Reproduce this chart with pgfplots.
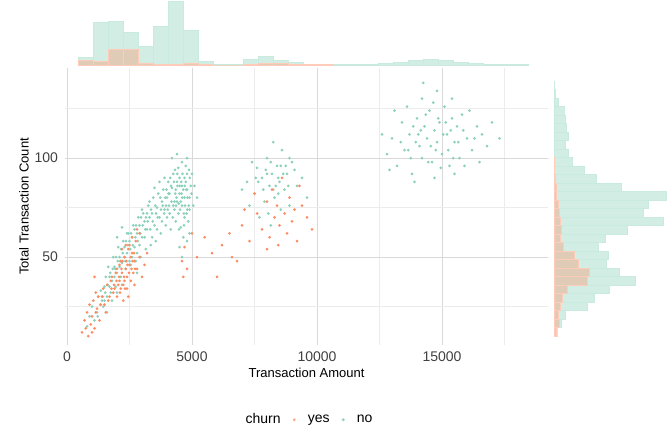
\documentclass[border=0pt]{standalone}
\usepackage{pgfplots}
\pgfplotsset{compat=1.18}
\usepackage{fontspec}
\setmainfont{Liberation Sans}
\definecolor{cyes}{HTML}{FC8D62}
\definecolor{cno}{HTML}{66C2A5}
\definecolor{grd}{HTML}{D9D9D9}
\begin{document}
\begin{tikzpicture}
\path (0,0) rectangle (336pt,223.5pt);
% main scatter
\begin{axis}[at={(32.5pt,51pt)},anchor=south west,scale only axis,width=241.5pt,height=138.5pt,
 xmin=-80,xmax=19240,ymin=5.56,ymax=145.5,axis line style={draw=none},
 tick style={draw=none},xtick={0,5000,10000,15000},ytick={50,100},
 minor xtick={2500,7500,12500,17500},minor ytick={25,75,125},
 grid=both,major grid style={grd,line width=0.5pt},minor grid style={grd!50,line width=0.4pt},
 scaled x ticks=false,/pgf/number format/assume math mode=true,
 /pgf/number format/set thousands separator={},
 ticklabel style={font=\fontsize{7}{8}\selectfont,text=black!75},
 xlabel={Transaction Amount},ylabel={Total Transaction Count},
 label style={font=\fontsize{6.5}{8}\selectfont},
 xlabel style={yshift=4pt},ylabel style={yshift=-4pt},
 legend style={at={(0.497,-0.27)},anchor=center,draw=none,font=\fontsize{7}{8}\selectfont,legend columns=-1,column sep=4pt},
 legend cell align=left]
\addlegendimage{empty legend}\addlegendentry{churn}
\addlegendimage{only marks,mark=*,mark size=0.8pt,cyes,mark options={fill opacity=0.7,draw opacity=0}}\addlegendentry{yes}
\addlegendimage{only marks,mark=*,mark size=0.8pt,cno,mark options={fill opacity=0.7,draw opacity=0}}\addlegendentry{no}
\addplot[only marks,mark=*,mark size=0.75pt,cno!75!white,mark options={draw opacity=0},forget plot] coordinates {
(1200,22)(1400,28)(1500,35)(1600,30)(1700,40)(1800,38)(1900,45)(2000,42)(2100,50)(2200,47)(2300,55)(2400,52)(2500,58)(2600,60)(2700,55)(2800,62)(2900,66)(3000,60)(3100,68)(3200,64)(3300,70)(3400,72)(3500,66)(3600,75)(3700,70)(3800,78)(3900,74)(4000,80)(4100,72)(4200,85)(4300,78)(4400,88)(4500,82)(4600,76)(4700,90)(4800,84)(4900,80)(5000,92)(4450,95)(4350,68)(4250,92)(4150,64)(4050,88)(3950,66)(3850,84)(3750,62)(3650,82)(3550,58)(3450,80)(3350,56)(3250,76)(3150,54)(3050,72)(2950,50)(2850,70)(2750,48)(2650,66)(2550,46)(2450,62)(2350,44)(2250,58)(2150,40)(2050,55)(1950,35)(1850,50)(1750,32)(1650,45)(1550,40)(1450,25)(1350,33)(1250,30)(1100,18)(1000,25)(900,20)(800,15)(4600,98)(4800,100)(4700,70)(4900,74)(5100,86)(5200,80)(4550,65)(4650,60)(4750,96)(4400,102)(4200,100)(4300,74)(4500,90)(4600,86)(4400,78)(4700,80)(4800,92)(4100,82)(4000,70)(3900,90)(3800,68)(4250,76)(4350,84)(4450,72)(4550,78)(4650,84)(4750,88)(4850,68)(4950,86)(5050,76)(3700,88)(3600,64)(3400,60)(3300,78)(3200,72)(3100,60)(3000,74)(2900,56)(2800,52)(2700,64)(2600,50)(2500,48)(2400,62)(2300,50)(2200,36)(2100,45)(2000,32)(1900,40)(1800,28)(1700,35)(1600,22)(1500,28)(2000,60)(2200,65)(2800,42)(3500,85)(4500,55)(4600,50)(4800,58)(4900,62)
(4380,80)(4520,74)(4620,92)(4720,76)(4820,80)(4280,88)(4180,78)(4080,76)(3980,84)(3880,72)(4420,86)(4580,82)(4680,66)(4780,72)(4880,94)(4980,82)(4320,94)(4480,64)
(4330,82)(4470,77)(4570,88)(4670,72)(4770,84)(4870,76)(4230,70)(4130,90)(4030,74)(3930,80)(3830,76)(3730,80)(3630,70)(3530,76)(3430,68)(3330,64)(3230,68)(3130,64)(3030,66)(2930,62)(2830,58)(2730,60)(2630,56)(2530,54)(2430,56)(2330,48)(2230,52)(2130,48)(2030,48)(1930,44)(1830,44)(1730,42)(1630,36)(1530,32)(1430,30)(1330,26)(1230,20)(4610,80)(4510,86)(4410,92)(4710,86)(4810,74)(4910,90)(4360,76)(4160,86)(4060,82)(3960,76)(3760,74)(3560,72)(3360,74)(3160,70)(2960,70)(2760,66)(2560,62)(2360,58)(2160,54)(1960,50)
(7200,88)(7500,82)(7600,95)(7800,90)(7900,78)(8000,100)(8100,86)(8200,92)(8300,80)(8400,96)(8500,88)(8600,104)(8700,84)(8800,92)(8900,76)(9000,98)(9200,86)(9400,90)(7700,70)(8050,72)(7400,98)(8250,108)(8550,74)(8900,100)(7300,76)(8150,66)(9600,80)(7000,84)(8450,90)(8750,96)(7850,84)(8350,86)(8650,92)(9100,94)(8000,92)(7650,88)(7950,94)(8150,98)(8550,96)(8850,86)(7550,90)(8250,84)(8450,82)
(12800,102)(13000,110)(13200,96)(13400,118)(13500,104)(13700,112)(13800,92)(14000,120)(14100,106)(14200,100)(14300,116)(14400,110)(14500,124)(14600,98)(14700,114)(14800,108)(14900,118)(15000,102)(15100,126)(15200,112)(15300,96)(15400,120)(15500,108)(15600,116)(15700,100)(15800,122)(16000,110)(16200,104)(16400,116)(16600,112)(16800,106)(17000,118)(17300,110)(13600,126)(14200,130)(14800,134)(15400,130)(13900,88)(14700,90)(15500,92)(12600,112)(13100,124)(16100,124)(14350,122)(15050,112)(14050,112)(14550,106)(15250,104)(13350,108)(16500,98)(12900,94)(15900,96)(14650,128)(14450,98)(15650,108)(13750,100)(14950,95)(14250,138)(15150,118)(13850,116)(14750,104)(13650,104)(14150,114)(14850,120)(15350,114)(15850,114)(16300,110)(13950,108)(15450,100)};
\addplot[only marks,mark=*,mark size=0.75pt,cyes,mark options={draw opacity=0},forget plot] coordinates {
(600,12)(700,18)(750,14)(800,22)(850,10)(900,26)(950,16)(1000,20)(1050,28)(1100,14)(1150,32)(1200,24)(1300,18)(1400,30)(1500,26)(1600,36)(1700,30)(1800,40)(1900,34)(2000,44)(2100,38)(2150,48)(2200,42)(2250,36)(2300,50)(2350,44)(2400,40)(2450,54)(2500,46)(2550,38)(2600,52)(2650,42)(2700,48)(2750,58)(2800,44)(2900,50)(3000,40)(2000,30)(1950,42)(2050,36)(2100,46)(1850,32)(2250,28)(2400,34)(2500,56)(2600,60)(2700,36)(2300,38)(2150,34)(1750,38)(1650,28)(1550,22)(1450,34)(1350,26)(1250,30)(1150,22)(2800,64)(2900,62)(3100,46)(3200,52)(2450,30)(2350,56)(2550,50)(1000,12)(1100,40)(2200,54)
(2080,40)(2180,44)(2280,40)(2380,48)(2480,42)(2580,44)(2680,52)(1980,38)(1880,36)(1780,34)(2120,32)(2420,46)(2220,48)(2320,34)(2620,48)(2720,44)
(4600,48)(4700,55)(4800,44)(5200,50)(5500,60)(5800,52)(6200,56)(6500,62)(6800,48)(7000,66)(7300,58)(7600,72)(7800,64)(8000,78)(8100,60)(8200,84)(8300,70)(8400,76)(8500,66)(8600,90)(8700,72)(8800,62)(8900,80)(9000,68)(9100,74)(9200,58)(9400,76)(9600,70)(9800,64)(7500,82)(8000,54)(6000,40)(5000,62)(7100,74)(9300,86)(8450,56)(4650,40)(6600,50)};
\end{axis}
% top histogram
\begin{axis}[at={(32.5pt,191pt)},anchor=south west,scale only axis,width=241.5pt,height=32.5pt,
 xmin=-80,xmax=19240,ymin=0,ymax=195,axis lines=none,xtick=\empty,ytick=\empty]
\addplot[ybar interval,fill=cno,fill opacity=0.3,draw=cno!35!white,line width=0.3pt] coordinates {
(453,23)(1053,127)(1653,132)(2253,97)(2853,57)(3453,117)(4053,190)(4653,105)(5253,10)(5853,2)(6453,3)(7053,18)(7653,25)(8253,13)(8853,7)(9453,2)(10053,2)(10653,1)(11253,1)(11853,1)(12453,4)(13053,8)(13653,14)(14253,16)(14853,14)(15453,7)(16053,4)(16653,1)(17253,1)(17853,1)(18453,1)};
\addplot[ybar interval,fill=cyes,fill opacity=0.35,draw=cyes!45!white,line width=0.3pt] coordinates {
(453,15)(1053,12)(1653,48)(2253,48)(2853,4)(3453,1)(4053,1)(4653,4)(5253,1)(5853,0)(6453,0)(7053,2)(7653,5)(8253,4)(8853,3)(9453,1)(10053,1)(10653,0)};
\end{axis}
% right histogram
\begin{axis}[at={(277pt,51pt)},anchor=south west,scale only axis,width=57pt,height=138.5pt,
 xmin=0,xmax=342,ymin=5.56,ymax=145.5,axis lines=none,xtick=\empty,ytick=\empty]
\addplot[xbar interval,fill=cno,fill opacity=0.3,draw=cno!35!white,line width=0.3pt] coordinates {
(9,10)(22,14.3)(35,18.6)(100,22.9)(120,27.2)(167,31.5)(244,35.8)(197,40.1)(157,44.4)(162,48.7)(132,53)(154,57.3)(219,61.6)(329,65.9)(269,70.2)(284,74.5)(337,78.8)(203,83.1)(127,87.4)(92,91.7)(54,96)(43,100.3)(35,104.6)(42,108.9)(38,113.2)(34,117.5)(30,121.8)(12,126.1)(4,130.4)(1,134.7)(1,139)};
\addplot[xbar interval,fill=cyes,fill opacity=0.35,draw=cyes!45!white,line width=0.3pt] coordinates {
(7,10)(17,14.3)(14,18.6)(20,22.9)(24,27.2)(40,31.5)(100,35.8)(107,40.1)(72,44.4)(60,48.7)(28,53)(19,57.3)(22,61.6)(20,65.9)(16,70.2)(14,74.5)(7,78.8)(7,83.1)(4,87.4)(2,91.7)(1,96)(1,100.3)};
\end{axis}
\end{tikzpicture}
\end{document}
